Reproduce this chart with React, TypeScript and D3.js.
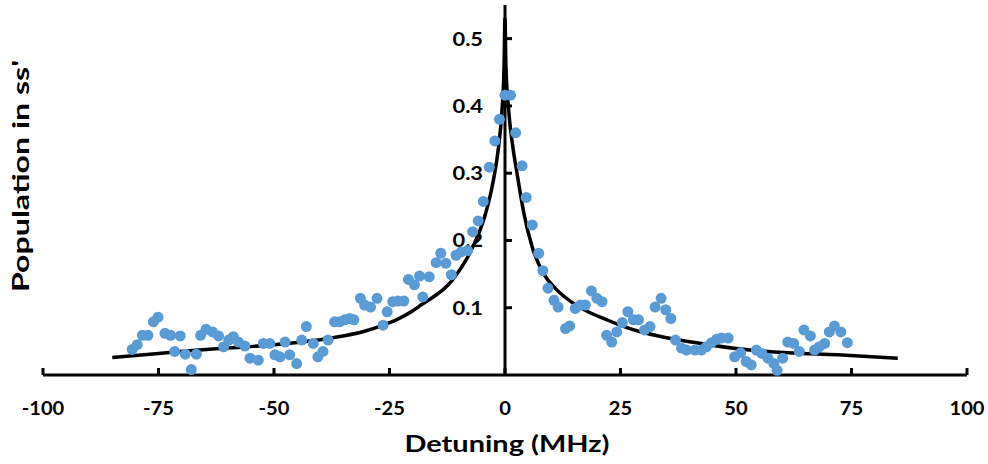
import React from 'react';
import * as d3 from 'd3';

// ---- data ----
const xTicks = [-100, -75, -50, -25, 0, 25, 50, 75, 100];
const yTicks = [0.1, 0.2, 0.3, 0.4, 0.5];
const xTickLabels = ['-100', '-75', '-50', '-25', '0', '25', '50', '75', '100'];
const yTickLabels = ['0.1', '0.2', '0.3', '0.4', '0.5'];

const measX = [
  -80.7, -79.6, -78.5, -77.3, -76.1, -75.1, -73.6, -72.4, -70.3, -71.5, -69.2, -66.8, -67.9,
  -65.9, -64.7, -63.3, -62.0, -60.9, -59.8, -58.8, -57.7, -56.3, -55.2, -53.4, -52.3, -50.9,
  -49.8, -48.7, -47.6, -46.6, -45.1, -44.0, -43.0, -41.5, -40.5, -39.4, -38.3, -36.9, -35.8,
  -34.7, -33.6, -32.7, -31.3, -30.4, -29.1, -27.7, -26.4, -25.5, -24.3, -23.2, -21.9, -20.9,
  -19.6, -18.5, -17.8, -16.4, -14.9, -13.9, -12.8, -11.6, -10.6, -9.5, -8.1, -7.0, -5.8, -4.7,
  -3.4, -2.2, -1.2, 0.0, 1.2, 2.3, 3.7, 4.6, 5.9, 7.3, 8.2, 9.3, 10.6, 11.5, 13.1, 14.0, 15.2,
  16.3, 17.4, 18.7, 19.9, 21.0, 22.0, 23.1, 24.2, 25.4, 26.6, 27.8, 28.9, 30.2, 31.4, 32.5,
  33.8, 34.8, 35.9, 36.9, 38.2, 39.3, 41.1, 42.5, 43.6, 44.7, 45.8, 46.8, 48.3, 49.7, 51.0,
  52.2, 53.3, 54.4, 55.6, 56.9, 58.2, 58.9, 60.1, 61.2, 62.5, 63.7, 64.7, 66.1, 67.0, 68.0,
  69.2, 70.2, 71.3, 72.7, 74.1,
];
const measY = [
  0.038, 0.045, 0.059, 0.059, 0.079, 0.086, 0.062, 0.059, 0.058, 0.035, 0.031, 0.031, 0.008,
  0.059, 0.068, 0.064, 0.058, 0.042, 0.052, 0.057, 0.049, 0.043, 0.025, 0.022, 0.047, 0.047,
  0.030, 0.027, 0.049, 0.030, 0.017, 0.052, 0.072, 0.047, 0.027, 0.035, 0.052, 0.079, 0.079,
  0.082, 0.084, 0.082, 0.114, 0.104, 0.101, 0.114, 0.074, 0.094, 0.109, 0.110, 0.110, 0.142,
  0.134, 0.147, 0.116, 0.146, 0.167, 0.181, 0.166, 0.149, 0.178, 0.183, 0.185, 0.213, 0.229,
  0.258, 0.309, 0.348, 0.380, 0.416, 0.416, 0.360, 0.311, 0.264, 0.223, 0.181, 0.155, 0.129,
  0.111, 0.101, 0.069, 0.073, 0.099, 0.104, 0.104, 0.125, 0.114, 0.109, 0.059, 0.049, 0.064,
  0.078, 0.094, 0.082, 0.082, 0.067, 0.072, 0.101, 0.114, 0.097, 0.084, 0.052, 0.040, 0.037,
  0.037, 0.037, 0.042, 0.048, 0.053, 0.055, 0.055, 0.027, 0.033, 0.020, 0.015, 0.037, 0.032,
  0.025, 0.017, 0.007, 0.025, 0.049, 0.047, 0.035, 0.067, 0.058, 0.037, 0.042, 0.047, 0.064,
  0.073, 0.064, 0.048,
];

const fitX = [
  -85, -75, -66.4, -55.6, -50, -37.6, -30.4, -26.8, -23.2, -20.3, -18.2, -11.4, -7, -4.2, -2.5,
  -1.4, -0.7, -0.2, 0, 0.2, 0.85, 1.7, 2.6, 4.1, 5.9, 8.4, 11, 14.5, 18, 21.7, 25.3, 28.9, 32.5,
  36.1, 40.4, 50.4, 61.2, 72, 85,
];
const fitY = [
  0.026, 0.032, 0.037, 0.042, 0.045, 0.055, 0.065, 0.073, 0.083, 0.094, 0.104, 0.141, 0.19,
  0.24, 0.29, 0.339, 0.389, 0.46, 0.53, 0.46, 0.389, 0.339, 0.3, 0.24, 0.19, 0.15, 0.128, 0.108,
  0.094, 0.083, 0.073, 0.065, 0.059, 0.054, 0.049, 0.039, 0.033, 0.03, 0.025,
];

const W = 988;
const H = 464;
const FONT = 'Lato, "Open Sans", sans-serif';

export default function App() {
  const x = d3.scaleLinear().domain([-100, 100]).range([43, 967]);
  const y = d3.scaleLinear().domain([0, 0.55]).range([375, 5]);

  const fitPts: [number, number][] = fitX.map((v, i) => [v, fitY[i]]);
  const line = d3
    .line<[number, number]>()
    .x((d) => x(d[0]))
    .y((d) => y(d[1]))
    .curve(d3.curveMonotoneX);

  const x0 = x(0);
  const y0 = y(0);

  return (
    <svg
      width={W}
      height={H}
      style={{ position: 'absolute', left: 0, top: 0, display: 'block', background: '#fff' }}
    >
      {/* x axis */}
      <line x1={x(-100)} x2={x(100)} y1={y0} y2={y0} stroke="#000" strokeWidth={3} />
      {xTicks.map((t) => (
        <line key={'xt' + t} x1={x(t)} x2={x(t)} y1={y0} y2={y0 - 7} stroke="#000" strokeWidth={3} />
      ))}
      {xTicks.map((t, i) => (
        <text
          key={'xl' + t}
          transform={`translate(${x(t)},${y0 + 40}) scale(1.06,1)`}
          textAnchor="middle"
          fontFamily={FONT}
          fontWeight="bold"
          fontSize={19}
          fill="#000"
        >
          {xTickLabels[i]}
        </text>
      ))}
      {/* y axis */}
      <line x1={x0} x2={x0} y1={y0} y2={y(0.55)} stroke="#000" strokeWidth={3} />
      {yTicks.map((t) => (
        <line key={'yt' + t} x1={x0} x2={x0 + 7} y1={y(t)} y2={y(t)} stroke="#000" strokeWidth={3} />
      ))}
      {yTicks.map((t, i) => (
        <text
          key={'yl' + t}
          transform={`translate(${x0 - 22},${y(t) + 7}) scale(1.15,1)`}
          textAnchor="end"
          fontFamily={FONT}
          fontWeight="bold"
          fontSize={19}
          fill="#000"
        >
          {yTickLabels[i]}
        </text>
      ))}
      {/* fit curve */}
      <path d={line(fitPts) || ''} fill="none" stroke="#000" strokeWidth={3.5} strokeLinejoin="round" />
      {/* measured points */}
      {measX.map((v, i) => (
        <circle key={'p' + i} cx={x(v)} cy={y(measY[i])} r={5.5} fill="#5B9BD5" />
      ))}
      {/* axis titles */}
      <text
        x={507}
        y={452}
        textAnchor="middle"
        fontFamily={FONT}
        fontWeight="bold"
        fontSize={22}
        textLength={205}
        lengthAdjust="spacingAndGlyphs"
        fill="#000"
      >
        Detuning (MHz)
      </text>
      <text
        transform={`translate(29,176) rotate(-90)`}
        textAnchor="middle"
        fontFamily={FONT}
        fontWeight="bold"
        fontSize={22}
        textLength={232}
        lengthAdjust="spacingAndGlyphs"
        fill="#000"
      >
        Population in ss'
      </text>
    </svg>
  );
}
